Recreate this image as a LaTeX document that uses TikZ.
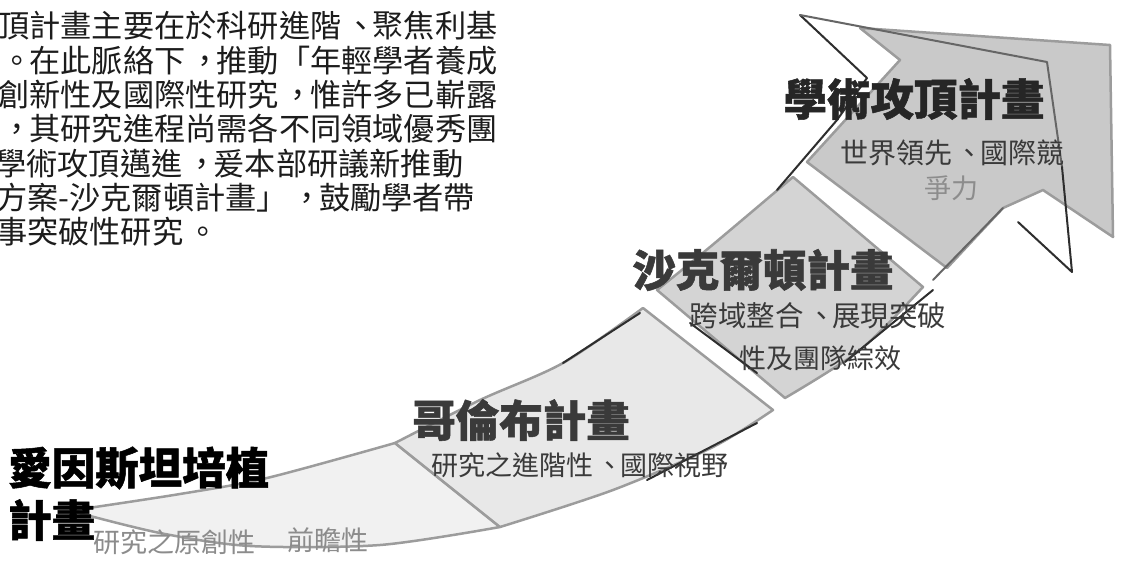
\documentclass[tikz,border=0pt]{standalone}
\usepackage{fontspec}
\newfontfamily\cjk[BoldFeatures={FakeBold=1.2}]{Noto Sans CJK TC}
\newcommand\cpu[1]{\makebox[1em][l]{\hspace*{0.12em}\makebox[0.8em][l]{#1}}}
\definecolor{segline}{HTML}{9C9C9C}
\definecolor{segA}{HTML}{F1F1F1}
\definecolor{segB}{HTML}{E8E8E8}
\definecolor{segC}{HTML}{D4D4D4}
\definecolor{segD}{HTML}{C9C9C9}
\definecolor{traceclr}{HTML}{2E2E2E}
\definecolor{tracemid}{HTML}{666666}
\definecolor{paratext}{HTML}{1C1C1C}
\definecolor{subgray}{HTML}{8C8C8C}
\definecolor{subdark}{HTML}{3A3A3A}
\begin{document}
\begin{tikzpicture}[x=1pt,y=-1pt,
  segborder/.style={draw=segline, line width=2.5pt, line join=round},
  trace/.style={draw=traceclr, line width=2pt, line cap=round, line join=round},
  tracelight/.style={draw=tracemid, line width=2pt, line cap=round, line join=round},
  para/.style={anchor=west, inner sep=0pt, font=\cjk\fontsize{31.2}{34}\selectfont, text=paratext},
  titletext/.style={inner sep=0pt, font=\cjk\bfseries\fontsize{43.5}{50}\selectfont},
  subtext/.style={inner sep=0pt, font=\cjk\fontsize{27}{30}\selectfont}]
\useasboundingbox (0,0) rectangle (1121,565);
\fill[white] (0,0) rectangle (1121,565);

% segment 1
\path[segborder, fill=segA] plot[smooth] coordinates {(75,510) (180,494) (267,478) (395,443)}
  -- (500,527) -- plot[smooth] coordinates {(500,527) (380,545) (250,546) (160,533) (75,512)} -- cycle;
% segment 2
\path[segborder, fill=segB] plot[smooth] coordinates {(395,443) (480,400) (563,363) (643,308)}
  -- (773,410) -- plot[smooth] coordinates {(773,410) (713,447) (613,490) (500,527)} -- cycle;
% segment 3
\path[segborder, fill=segC] plot[smooth] coordinates {(657,290) (710,247) (793,177)}
  -- (923,287) -- plot[smooth] coordinates {(923,287) (860,350) (785,398)} -- cycle;
% segment 4 (head)
\path[segborder, fill=segD] (807,162) -- (900,60) -- (860,28) -- (1110,45) -- (1113,237)
  -- (1043,190) -- (1003,208) -- (947,268) -- cycle;

% dark traced outline pieces
\draw[trace] (563,363) -- (640,313);
\draw[trace] (777,190) -- (837,120) -- (867,78) -- (800,15);
\draw[tracelight] (800,15) -- (1047,62) -- (1062,167);
\draw[trace] (1062,167) -- (1072,272) -- (1018,222);
\draw[tracelight] (1003,208) -- (933,280);
\draw[trace] (933,290) -- (845,362);
\draw[trace] (757,423) -- (647,480);
\draw[trace] (690,323) -- (757,373);

% paragraph
\node[para] (p1) at (-2,26) {頂計畫主要在於科研進階\cpu{、}聚焦利基};
\node[para] (p2) at (-2,60.3) {\cpu{。}在此脈絡下\cpu{，}推動「年輕學者養成};
\node[para] (p3) at (-2,94.6) {創新性及國際性研究\cpu{，}惟許多已嶄露};
\node[para] (p4) at (-2,128.9) {\cpu{，}其研究進程尚需各不同領域優秀團};
\node[para] (p5) at (-5,163.2) {學術攻頂邁進\cpu{，}爰本部研議新推動};
\node[para] (p6) at (-4,197.5) {方案-沙克爾頓計畫」\cpu{，}鼓勵學者帶};
\node[para] (p7) at (-4,231.8) {事突破性研究\cpu{。}};

% labels
\node[titletext, text=black, anchor=west] (t1a) at (8,468) {愛因斯坦培植};
\node[titletext, text=black, anchor=west] (t1b) at (8,520) {計畫};
\node[subtext, text=subgray, anchor=west] (s1a) at (93,542) {研究之原創性};
\node[subtext, text=subgray, anchor=west] (s1b) at (287,540) {前瞻性};

\node[titletext, text=subdark] (t2) at (521,420) {哥倫布計畫};
\node[subtext, text=subdark] (s2) at (580,465) {研究之進階性\cpu{、}國際視野};

\node[titletext, text=subdark] (t3) at (763,270) {沙克爾頓計畫};
\node[subtext, text=subdark, font=\cjk\fontsize{28.5}{30}\selectfont] (s3a) at (818,316) {跨域整合\cpu{、}展現突破};
\node[subtext, text=subdark] (s3b) at (820,358) {性及團隊綜效};

\node[titletext, text=black!85] (t4) at (914,99) {學術攻頂計畫};
\node[subtext, text=subdark, font=\cjk\fontsize{28}{30}\selectfont] (s4a) at (952,153) {世界領先\cpu{、}國際競};
\node[subtext, text=subgray] (s4b) at (951,188) {爭力};
\end{tikzpicture}
\end{document}
